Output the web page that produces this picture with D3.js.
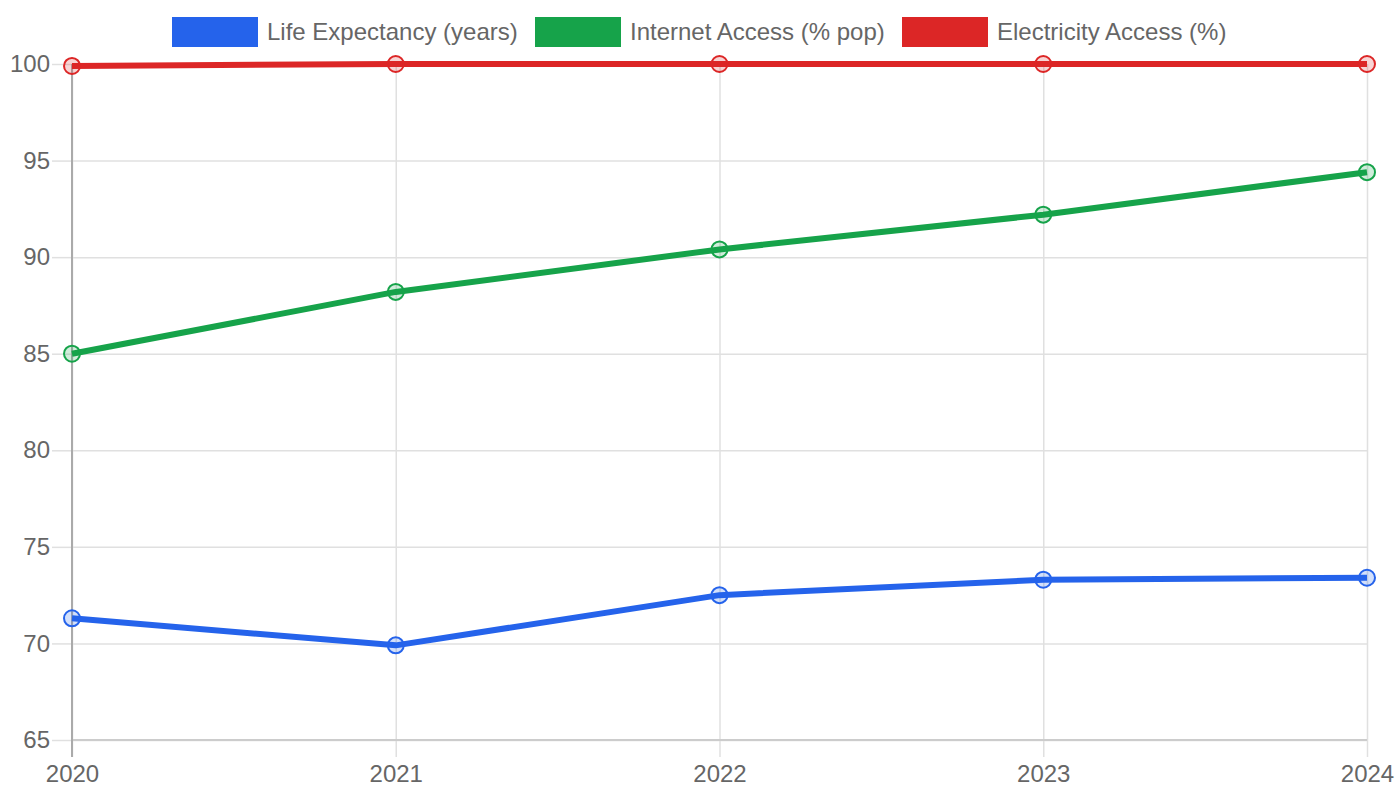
<!DOCTYPE html>
<html><head><meta charset="utf-8">
<script src="https://cdn.jsdelivr.net/npm/d3@7"></script>
<style>body{margin:0;background:#fff}svg{display:block;font-family:"Liberation Sans",Arial,sans-serif}</style>
</head><body><svg id="c" width="1400" height="800"></svg>
<script>
const years = ["2020","2021","2022","2023","2024"];
const lifeExpectancy = [71.3, 69.9, 72.5, 73.3, 73.4];
const internetAccess = [85.0, 88.2, 90.4, 92.2, 94.4];
const electricityAccess = [99.9, 100, 100, 100, 100];
const yTicks = [65, 70, 75, 80, 85, 90, 95, 100];
const seriesNames = ["Life Expectancy (years)", "Internet Access (% pop)", "Electricity Access (%)"];
const seriesColors = ["#2563eb", "#16a34a", "#dc2626"];
const seriesData = [lifeExpectancy, internetAccess, electricityAccess];

const svg = d3.select("#c");
const L = 72, R = 1367, T = 64, B = 740;
const x = d3.scalePoint().domain(years).range([L, R]);
const y = d3.scaleLinear().domain([65, 100]).range([B, T]);

// horizontal grid
const gy = svg.append("g").attr("transform", `translate(${L},0)`)
  .call(d3.axisLeft(y).tickValues(yTicks).tickSize(-(R - L)).tickSizeOuter(0).tickPadding(0).tickFormat(""));
gy.select(".domain").remove();
gy.selectAll(".tick line").attr("stroke", "#e0e0e0").attr("stroke-width", 1.5);
// y tick stubs + labels
const gyl = svg.append("g").attr("transform", `translate(${L},0)`)
  .call(d3.axisLeft(y).tickValues(yTicks).tickSize(20).tickPadding(2).tickSizeOuter(0));
gyl.select(".domain").remove();
gyl.selectAll(".tick line").attr("stroke", "#e0e0e0").attr("stroke-width", 1.5);
gyl.selectAll(".tick text").attr("fill", "#666").attr("font-size", 24).attr("font-family", "Liberation Sans, Arial, sans-serif");

// vertical grid
const gx = svg.append("g").attr("transform", `translate(0,${B})`)
  .call(d3.axisBottom(x).tickSize(-(B - T)).tickSizeOuter(0).tickFormat(""));
gx.select(".domain").remove();
gx.selectAll(".tick line").attr("stroke", "#e0e0e0").attr("stroke-width", 1.5);
const gxl = svg.append("g").attr("transform", `translate(0,${B})`)
  .call(d3.axisBottom(x).tickSize(17).tickPadding(8).tickSizeOuter(0));
gxl.select(".domain").remove();
gxl.selectAll(".tick line").attr("stroke", "#e0e0e0").attr("stroke-width", 1.5);
gxl.selectAll(".tick text").attr("fill", "#666").attr("font-size", 24).attr("font-family", "Liberation Sans, Arial, sans-serif");

// axis lines
svg.append("line").attr("x1", L).attr("x2", R).attr("y1", B).attr("y2", B).attr("stroke", "#cccccc").attr("stroke-width", 2);
svg.append("line").attr("x1", L).attr("x2", L).attr("y1", T).attr("y2", B + 17).attr("stroke", "#aaaaaa").attr("stroke-width", 2);

// lines
const line = d3.line().x((d, i) => x(years[i])).y(d => y(d));
seriesData.forEach((data, s) => {
  svg.append("path").datum(data).attr("d", line).attr("fill", "none")
    .attr("stroke", seriesColors[s]).attr("stroke-width", 6).attr("stroke-linejoin", "round");
});
seriesData.forEach((data, s) => {
  const c = d3.color(seriesColors[s]);
  c.opacity = 0.2;
  svg.append("g").selectAll("circle").data(data).join("circle")
    .attr("cx", (d, i) => x(years[i])).attr("cy", d => y(d)).attr("r", 8)
    .attr("fill", c.formatRgb()).attr("stroke", seriesColors[s]).attr("stroke-width", 2);
});

// legend
const legendX = [172, 535, 902];
const lg = svg.append("g");
seriesNames.forEach((name, s) => {
  lg.append("rect").attr("x", legendX[s]).attr("y", 17).attr("width", 86).attr("height", 30).attr("fill", seriesColors[s]);
  lg.append("text").attr("x", legendX[s] + 95).attr("y", 32).attr("dy", "0.35em")
    .attr("fill", "#666").attr("font-size", 24).text(name);
});
</script></body></html>
